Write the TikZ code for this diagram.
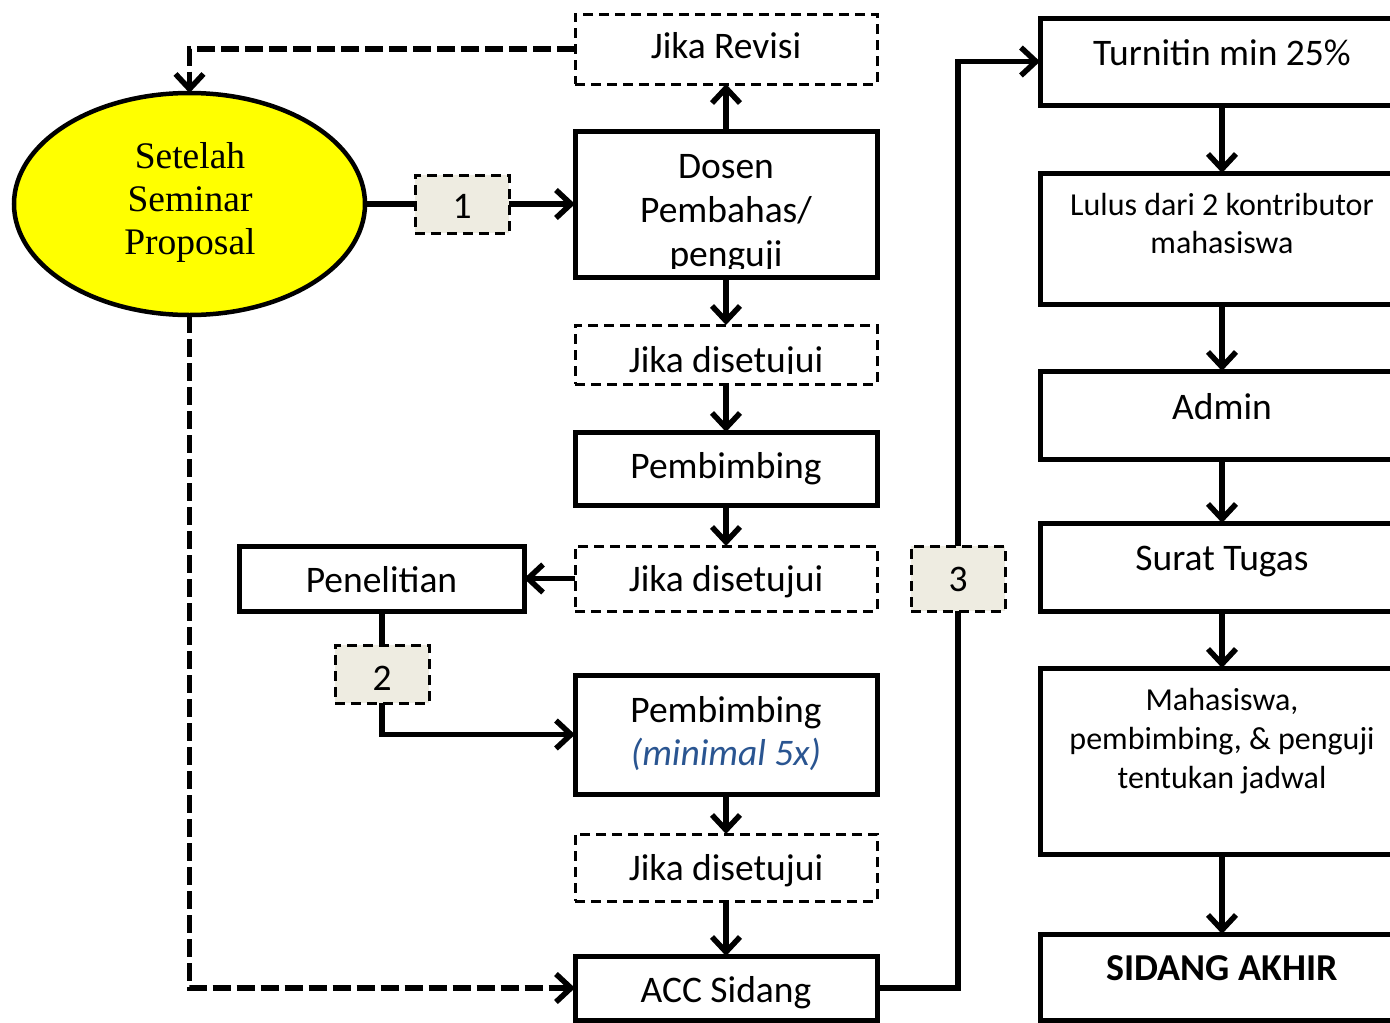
\documentclass[tikz,border=0pt]{standalone}
\usepackage{fontspec}
\setmainfont{Carlito}
\newfontfamily\serifft{Liberation Serif}
\usetikzlibrary{arrows.meta,shapes.geometric}
\definecolor{numfill}{HTML}{EEECE1}
\definecolor{noteblue}{HTML}{2A5591}
\definecolor{ellfill}{HTML}{FFFF00}
\begin{document}
\begin{tikzpicture}[x=1pt,y=-1pt,
  solidbox/.style={draw,line width=5pt,rectangle,inner sep=0pt,outer sep=0pt},
  dashbox/.style={draw,line width=3pt,dash pattern=on 10pt off 6pt,rectangle,inner sep=0pt,outer sep=0pt},
  numbox/.style={draw,line width=3pt,dash pattern=on 10pt off 6pt,fill=numfill,rectangle,inner sep=0pt,outer sep=0pt},
  txt/.style={anchor=base,inner sep=0pt,font=\fontsize{37.5}{44}\selectfont},
  smalltxt/.style={anchor=base,inner sep=0pt,font=\fontsize{32}{39}\selectfont},
  conn/.style={line width=5.5pt},
  dconn/.style={line width=5.5pt,dash pattern=on 18pt off 6pt},
  arr/.style={-{Straight Barb[length=15pt,width=28pt]}}
]
\useasboundingbox (0,0) rectangle (1390,1023);
\fill[white] (0,0) rectangle (1390,1023);

% ellipse
\node[ellipse,draw,line width=4.5pt,fill=ellfill,minimum width=351pt,minimum height=222pt,inner sep=0pt,outer sep=0pt] (ell) at (189.5,204) {};
\node[anchor=base,inner sep=0pt,font=\serifft\fontsize{37.5}{43}\selectfont] (ellt1) at (190,168) {Setelah};
\node[anchor=base,inner sep=0pt,font=\serifft\fontsize{37.5}{43}\selectfont] (ellt2) at (190,211) {Seminar};
\node[anchor=base,inner sep=0pt,font=\serifft\fontsize{37.5}{43}\selectfont] (ellt3) at (190,254) {Proposal};

% middle column
\node[dashbox,minimum width=302pt,minimum height=70pt] (jr) at (726,49) {};
\node[txt] (jrt) at (726,58) {Jika Revisi};

\node[solidbox,minimum width=302pt,minimum height=146pt] (dosen) at (726,204) {};
\node[txt] (dosent1) at (726,178) {Dosen};
\node[txt] (dosent2) at (726,222) {Pembahas/};
\begin{scope}
\clip (580,240) rectangle (872,268);
\node[txt] (dosent3) at (726,266) {penguji};
\end{scope}

\node[dashbox,minimum width=302pt,minimum height=59pt] (jd1) at (726,354.5) {};
\begin{scope}
\clip (580,330) rectangle (872,373);
\node[txt] (jd1t) at (726,372) {Jika disetujui};
\end{scope}

\node[solidbox,minimum width=302pt,minimum height=73pt] (pb1) at (726,468.5) {};
\node[txt] (pb1t) at (726,478) {Pembimbing};

\node[dashbox,minimum width=302pt,minimum height=65pt] (jd2) at (726,578.5) {};
\node[txt] (jd2t) at (726,591) {Jika disetujui};

\node[solidbox,minimum width=285pt,minimum height=65pt] (pen) at (381.5,578.5) {};
\node[txt] (pent) at (381.5,592) {Penelitian};

\node[solidbox,minimum width=302pt,minimum height=119pt] (pb2) at (726,734.5) {};
\node[txt] (pb2t1) at (726,722) {Pembimbing};
\node[txt,text=noteblue] (pb2t2) at (726,765) {\itshape (minimal 5x)};

\node[dashbox,minimum width=302pt,minimum height=67pt] (jd3) at (726,867.5) {};
\node[txt] (jd3t) at (726,880) {Jika disetujui};

\node[solidbox,minimum width=302pt,minimum height=64pt] (acc) at (726,988) {};
\node[txt] (acct) at (726,1002) {ACC Sidang};

% number boxes
\node[numbox,minimum width=94pt,minimum height=58pt] (n1) at (462,204) {};
\node[txt] (n1t) at (462,218) {1};
\node[numbox,minimum width=94pt,minimum height=58pt] (n2) at (382,674) {};
\node[txt] (n2t) at (382,690) {2};
\node[numbox,minimum width=94pt,minimum height=65pt] (n3) at (958,578.5) {};
\node[txt] (n3t) at (958,591) {3};

% right column
\node[solidbox,minimum width=364pt,minimum height=87pt] (turn) at (1222,61.5) {};
\node[txt] (turnt) at (1222,65) {Turnitin min 25\%};
\node[solidbox,minimum width=364pt,minimum height=131pt] (lulus) at (1222,238.5) {};
\node[smalltxt] (lulust1) at (1222,215) {Lulus dari 2 kontributor};
\node[smalltxt] (lulust2) at (1222,253) {mahasiswa};
\node[solidbox,minimum width=364pt,minimum height=88pt] (admin) at (1222,415) {};
\node[txt] (admint) at (1222,419) {Admin};
\node[solidbox,minimum width=364pt,minimum height=88pt] (surat) at (1222,567) {};
\node[txt] (suratt) at (1222,570) {Surat Tugas};
\node[solidbox,minimum width=364pt,minimum height=186pt] (mhs) at (1222,761) {};
\node[smalltxt] (mhst1) at (1222,710) {Mahasiswa,};
\node[smalltxt] (mhst2) at (1222,749) {pembimbing, \& penguji};
\node[smalltxt] (mhst3) at (1222,788) {tentukan jadwal};
\node[solidbox,minimum width=364pt,minimum height=86pt] (sid) at (1222,977) {};
\node[txt,font=\fontsize{38}{44}\selectfont\bfseries] (sidt) at (1222,980) {SIDANG AKHIR};

% connectors
\draw[conn] (ell.east) -- (n1.west);
\draw[conn,arr] (n1.east) -- (dosen.west);
\draw[conn,arr] (dosen.north) -- (jr.south);
\draw[dconn,arr] (jr.west) -| (ell.north);
\draw[conn,arr] (dosen.south) -- (jd1.north);
\draw[conn,arr] (jd1.south) -- (pb1.north);
\draw[conn,arr] (pb1.south) -- (jd2.north);
\draw[conn,arr] (jd2.west) -- (pen.east);
\draw[conn] (pen.south -| n2.north) -- (n2.north);
\draw[conn,arr] (n2.south) |- (pb2.west);
\draw[conn,arr] (pb2.south) -- (jd3.north);
\draw[conn,arr] (jd3.south) -- (acc.north);
\draw[dconn,arr] (ell.south) |- (acc.west);
\draw[conn] (acc.east) -| (n3.south);
\draw[conn,arr] (n3.north) |- (turn.west);
\draw[conn,arr] (turn.south) -- (lulus.north);
\draw[conn,arr] (lulus.south) -- (admin.north);
\draw[conn,arr] (admin.south) -- (surat.north);
\draw[conn,arr] (surat.south) -- (mhs.north);
\draw[conn,arr] (mhs.south) -- (sid.north);
\end{tikzpicture}
\end{document}
